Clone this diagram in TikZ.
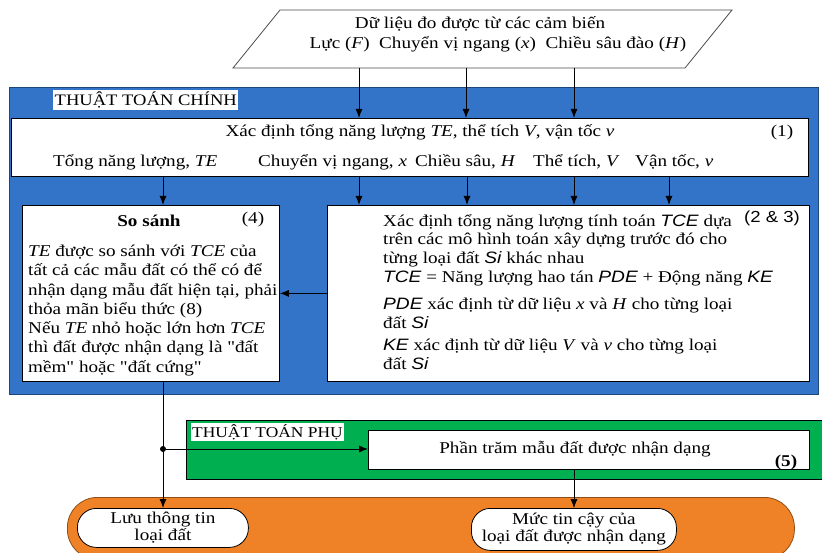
\documentclass[tikz,border=0pt]{standalone}
\usepackage{fontspec}
\setmainfont{Liberation Serif}[FakeStretch=1.16, Ligatures=TeXOff]
\newfontfamily\sansf{Liberation Sans}[FakeStretch=1.16]
\usetikzlibrary{arrows.meta}
\definecolor{blueC}{RGB}{52,116,200}
\definecolor{greenC}{RGB}{0,176,80}
\definecolor{orangeC}{RGB}{239,130,38}
\newcommand{\sv}[1]{{\sansf\itshape #1}}
\newcommand{\dq}{\char"22\relax}
\begin{document}
\begin{tikzpicture}[x=1pt,y=-1pt,
  font=\fontsize{16.5}{19.2}\selectfont,
  >={Latex[length=9pt,width=7pt]},
  whitebox/.style={draw=black, fill=white, line width=0.8pt, inner sep=0pt, anchor=north west},
  areabox/.style={line width=0.8pt, inner sep=0pt, anchor=north west},
  pill/.style={whitebox, rounded corners=19pt},
  txt/.style={inner sep=0pt, anchor=base west},
  ctxt/.style={inner sep=0pt, anchor=base},
  para/.style={inner sep=0pt, anchor=base west, align=left},
  tag/.style={fill=white, inner sep=1.5pt, anchor=north west},
  arr/.style={->, line width=0.9pt},
]
\useasboundingbox (0,0) rectangle (822,553);
\begin{scope}
\clip (0,0) rectangle (822,553);
% source parallelogram
\draw[draw=gray!60!black, line width=0.8pt, fill=white] (280,10) -- (732,10) -- (685,68) -- (233,68) -- cycle;
\node[ctxt] (srcA) at (480,29) {Dữ liệu đo được từ các cảm biến};
\node[ctxt] (srcB) at (498,49) {Lực (\textit{F})\ \ Chuyển vị ngang (\textit{x})\ \ Chiều sâu đào (\textit{H})};
\coordinate (s1) at (359,68);
\coordinate (s2) at (466,68);
\coordinate (s3) at (574,68);

% main algorithm area
\node[areabox, fill=blueC, draw=blueC!60!black, minimum width=809pt, minimum height=307pt] (main) at (9,87) {};
\node[tag, font=\fontsize{16}{18}\selectfont] (mainlab) at (53,90) {THUẬT TOÁN CHÍNH};

\node[whitebox, minimum width=797pt, minimum height=58pt] (b1) at (11,118) {};
\node[ctxt] (b1t) at (420,137) {Xác định tổng năng lượng \textit{TE}, thể tích \textit{V}, vận tốc \textit{v}};
\node[ctxt] (b1n) at (782,137) {(1)};
\node[txt] (o1t) at (53,167) {Tổng năng lượng, \textit{TE}};
\node[txt] (o2t) at (258,167) {Chuyển vị ngang, \textit{x}};
\node[txt] (o3t) at (415,167) {Chiều sâu, \textit{H}};
\node[txt] (o4t) at (533,167) {Thể tích, \textit{V}};
\node[txt] (o5t) at (635,167) {Vận tốc, \textit{v}};

\node[whitebox, minimum width=257pt, minimum height=176pt] (b4) at (22,205) {};
\node[ctxt, font=\fontsize{16.5}{19.2}\selectfont\bfseries] (b4h) at (149,227) {So sánh};
\node[ctxt] (b4n) at (253,224) {(4)};
% base anchor = last line baseline
\node[para] (b4p) at (28,372) {\textit{TE} được so sánh với \textit{TCE} của\\
tất cả các mẫu đất có thể có để\\
nhận dạng mẫu đất hiện tại, phải\\
thỏa mãn biểu thức (8)\\
Nếu \textit{TE} nhỏ hoặc lớn hơn \textit{TCE}\\
thì đất được nhận dạng là \dq đất\\
mềm\dq{} hoặc \dq đất cứng\dq};

\node[whitebox, minimum width=482pt, minimum height=176pt] (b23) at (327,205) {};
\node[ctxt, font=\sansf\fontsize{16}{19}\selectfont] (b23n) at (772,223) {(2 \& 3)};
\node[para, font=\fontsize{16.5}{18.7}\selectfont] (p1) at (383,263.5) {Xác định tổng năng lượng tính toán \sv{TCE} dựa\\
trên các mô hình toán xây dựng trước đó cho\\
từng loại đất \sv{Si} khác nhau};
\node[para] (p2) at (383,283) {\sv{TCE} = Năng lượng hao tán \sv{PDE} + Động năng \sv{KE}};
\node[para] (p3) at (383,329) {\sv{PDE} xác định từ dữ liệu \textit{x} và \textit{H} cho từng loại\\
đất \sv{Si}};
\node[para] (p4) at (383,369.5) {\sv{KE} xác định từ dữ liệu \textit{V} và \textit{v} cho từng loại\\
đất \sv{Si}};

% sub algorithm area
\node[areabox, fill=greenC, draw=black, minimum width=640pt, minimum height=59pt] (sub) at (186,420) {};
\node[tag, inner sep=1pt, font=\fontsize{15}{17}\selectfont] (sublab) at (191,423) {THUẬT TOÁN PHỤ};
\node[whitebox, minimum width=441pt, minimum height=39pt] (b5) at (368,430) {};
\node[ctxt] (b5t) at (575,453) {Phần trăm mẫu đất được nhận dạng};
\node[ctxt, font=\fontsize{16.5}{19}\selectfont\bfseries] (b5n) at (786,466) {(5)};

% outputs
\node[areabox, fill=orangeC, draw=orangeC!60!black, rounded corners=30pt, minimum width=727pt, minimum height=62pt] (out) at (67,497) {};
\node[pill, minimum width=171pt, minimum height=39pt] (r1) at (77,508) {};
\node[align=center, inner sep=0pt, font=\fontsize{16.5}{17}\selectfont] (r1t) at (r1.center) {Lưu thông tin\\loại đất};
\node[pill, minimum width=205pt, minimum height=42pt] (r2) at (471,508) {};
\node[align=center, inner sep=0pt, font=\fontsize{16.5}{17}\selectfont] (r2t) at (r2.center) {Mức tin cậy của\\loại đất được nhận dạng};

% connectors
\draw[arr] (s1) -- (s1 |- b1.north);
\draw[arr] (s2) -- (s2 |- b1.north);
\draw[arr] (s3) -- (s3 |- b1.north);
\coordinate (d1) at (163,176);
\coordinate (d2) at (359,176);
\coordinate (d3) at (467,176);
\coordinate (d4) at (574,176);
\coordinate (d5) at (669,176);
\draw[arr] (d1) -- (d1 |- b4.north);
\draw[arr] (d2) -- (d2 |- b23.north);
\draw[arr] (d3) -- (d3 |- b23.north);
\draw[arr] (d4) -- (d4 |- b23.north);
\draw[arr] (d5) -- (d5 |- b23.north);
\draw[arr] (b23.west) -- (b4.east);
\coordinate (c4) at (163,381);
\coordinate (j) at (163,449);
\draw[arr] (c4) -- (c4 |- r1.north);
\draw[arr] (j) -- (j -| b5.west);
\fill (j) circle (3pt);
\coordinate (c5) at (574,469);
\draw[->, line width=0.6pt] (c5) -- (c5 |- r2.north);
\end{scope}
\end{tikzpicture}
\end{document}
